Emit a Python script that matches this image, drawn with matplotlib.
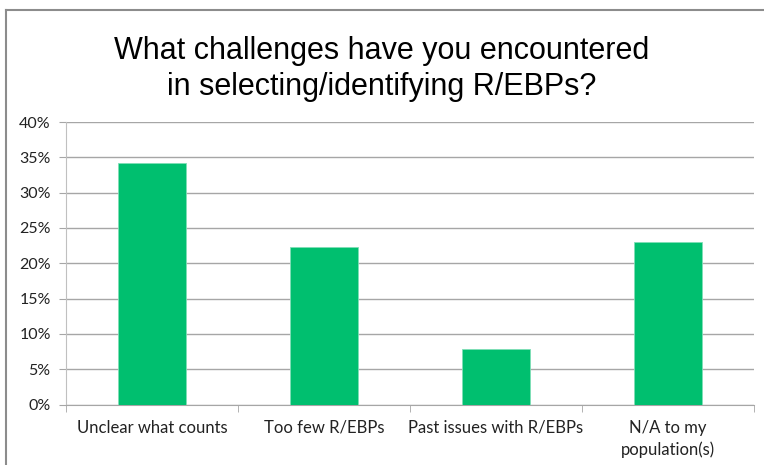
import matplotlib.pyplot as plt
import matplotlib.font_manager as fm
import numpy as np
from matplotlib.ticker import FixedLocator, NullFormatter

categories = ["Unclear what counts", "Too few R/EBPs", "Past issues with R/EBPs", "N/A to my\npopulation(s)"]
values = [34.2, 22.3, 7.9, 23.0]
yticks = [0, 5, 10, 15, 20, 25, 30, 35, 40]

names = {f.name for f in fm.fontManager.ttflist}
title_font = "Liberation Sans Narrow" if "Liberation Sans Narrow" in names else "Liberation Sans"

fig = plt.figure(figsize=(7.64, 4.65), dpi=100)
ax = fig.add_axes([66 / 764, 1 - 404.5 / 465, 688 / 764, 282.5 / 465])

x = np.arange(len(categories))
ax.bar(x, values, width=0.4, color="#00BF6F", edgecolor="#7FDFB7", linewidth=0.6, zorder=3)

ax.set_xlim(-0.5, len(categories) - 0.5)
ax.set_ylim(0, 40)
ax.set_yticks(yticks)
ax.set_yticklabels([f"{t}%" for t in yticks], fontsize=11.5, family="Lato", color="#222222")
ax.yaxis.grid(True, color="#A6A6A6", linewidth=1, zorder=0)

# category labels sit under the bars, tick marks at the boundaries
ax.set_xticks(x)
ax.set_xticklabels(categories, fontsize=12, family="Lato", color="#222222", linespacing=1.45)
ax.tick_params(axis="x", length=0, pad=11)
ax.xaxis.set_minor_locator(FixedLocator(np.arange(-0.5, len(categories), 1)))
ax.xaxis.set_minor_formatter(NullFormatter())
ax.tick_params(axis="x", which="minor", length=5, color="#A6A6A6", direction="out")
ax.tick_params(axis="y", length=5, color="#A6A6A6", pad=6)

for side in ["top", "right"]:
    ax.spines[side].set_visible(False)
ax.spines["left"].set_color("#C0C0C0")
ax.spines["bottom"].set_color("#A6A6A6")

fig.text(0.5, 1 - 69 / 465, "What challenges have you encountered\nin selecting/identifying R/EBPs?",
         ha="center", va="center", fontsize=22, family=title_font, linespacing=1.28)

# outer frame (only top and left edges fall inside the image)
fig.add_artist(plt.Line2D([6 / 764, 1], [1 - 10 / 465, 1 - 10 / 465], color="#8C8C8C", linewidth=1.5))
fig.add_artist(plt.Line2D([6 / 764, 6 / 764], [0, 1 - 10 / 465], color="#8C8C8C", linewidth=1.5))

fig.savefig("out.png", dpi=100)
